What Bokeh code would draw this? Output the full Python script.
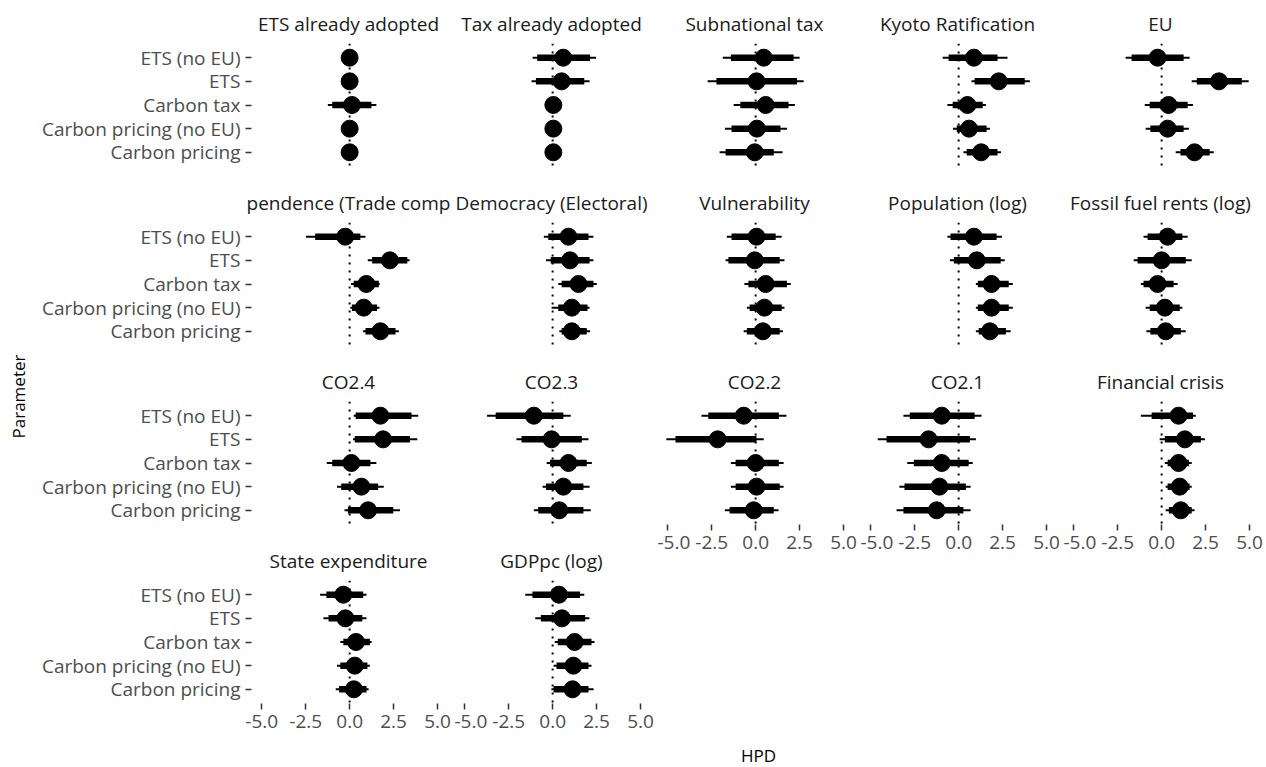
from bokeh.plotting import figure
from bokeh.models import FactorRange, Range1d, Span, FixedTicker, Title, ColumnDataSource, NumeralTickFormatter
from bokeh.layouts import row, column
from bokeh.embed import file_html
from bokeh.resources import INLINE

# ---------------- data ----------------
CATEGORIES = ["ETS (no EU)", "ETS", "Carbon tax", "Carbon pricing (no EU)", "Carbon pricing"]

PANELS = [
    "ETS already adopted", "Tax already adopted", "Subnational tax", "Kyoto Ratification", "EU",
    "pendence (Trade comp", "Democracy (Electoral)", "Vulnerability", "Population (log)", "Fossil fuel rents (log)",
    "CO2.4", "CO2.3", "CO2.2", "CO2.1", "Financial crisis",
    "State expenditure", "GDPpc (log)",
]

# point estimates (order of CATEGORIES)
POINT = [
    [0.00, 0.00, 0.13, 0.00, 0.00],
    [0.60, 0.51, 0.04, 0.04, 0.04],
    [0.46, 0.05, 0.57, 0.07, -0.05],
    [0.87, 2.28, 0.50, 0.59, 1.28],
    [-0.23, 3.26, 0.39, 0.34, 1.87],
    [-0.25, 2.29, 0.95, 0.80, 1.75],
    [0.90, 0.99, 1.47, 1.09, 1.09],
    [0.05, -0.05, 0.57, 0.50, 0.41],
    [0.87, 1.03, 1.87, 1.87, 1.78],
    [0.34, 0.00, -0.23, 0.18, 0.23],
    [1.75, 1.90, 0.10, 0.67, 1.05],
    [-1.07, -0.06, 0.90, 0.61, 0.38],
    [-0.68, -2.16, 0.00, 0.05, -0.11],
    [-0.96, -1.71, -0.96, -1.09, -1.25],
    [0.96, 1.32, 0.96, 1.03, 1.09],
    [-0.36, -0.24, 0.36, 0.29, 0.24],
    [0.36, 0.53, 1.25, 1.18, 1.13],
]
THICK_LO = [
    [-0.05, -0.05, -0.99, -0.05, -0.05],
    [-0.88, -0.95, 0.00, 0.00, 0.00],
    [-1.41, -2.23, -0.87, -1.37, -1.71],
    [-0.57, 0.91, -0.34, -0.11, 0.46],
    [-1.71, 2.00, -0.68, -0.64, 1.07],
    [-1.96, 1.28, 0.23, 0.13, 0.90],
    [-0.25, -0.11, 0.51, 0.32, 0.51],
    [-1.37, -1.55, -0.41, -0.34, -0.50],
    [-0.46, -0.27, 1.09, 1.09, 1.14],
    [-0.80, -1.37, -1.03, -0.68, -0.64],
    [0.34, 0.29, -0.99, -0.48, -0.10],
    [-3.24, -1.77, -0.15, -0.38, -0.82],
    [-2.69, -4.56, -1.14, -1.14, -1.48],
    [-2.78, -4.10, -2.55, -3.08, -3.14],
    [-0.57, 0.18, 0.34, 0.34, 0.41],
    [-1.32, -1.20, -0.36, -0.53, -0.60],
    [-1.15, -0.67, 0.29, 0.22, 0.05],
]
THICK_HI = [
    [0.05, 0.05, 1.24, 0.05, 0.05],
    [2.13, 1.80, 0.08, 0.08, 0.08],
    [2.16, 2.35, 1.87, 1.41, 1.03],
    [2.21, 3.76, 1.37, 1.59, 2.21],
    [1.25, 4.56, 1.48, 1.25, 2.73],
    [0.61, 3.28, 1.66, 1.56, 2.61],
    [2.04, 2.10, 2.32, 1.98, 1.94],
    [1.14, 1.37, 1.78, 1.48, 1.37],
    [2.16, 2.39, 2.85, 2.85, 2.69],
    [1.18, 1.37, 0.68, 1.03, 1.09],
    [3.52, 3.43, 1.18, 1.62, 2.48],
    [0.61, 1.66, 1.94, 1.75, 1.75],
    [1.32, 0.05, 1.32, 1.37, 1.03],
    [0.91, 0.64, 0.57, 0.41, 0.27],
    [1.78, 2.23, 1.55, 1.59, 1.71],
    [0.77, 0.72, 1.15, 1.01, 0.96],
    [1.56, 1.85, 2.21, 2.04, 2.04],
]
THIN_LO = [
    [-0.10, -0.10, -1.24, -0.10, -0.10],
    [-1.14, -1.20, -0.04, -0.04, -0.04],
    [-1.87, -2.73, -1.25, -1.75, -2.05],
    [-0.91, 0.73, -0.64, -0.32, 0.27],
    [-2.05, 1.71, -0.96, -0.91, 0.80],
    [-2.48, 1.03, 0.08, 0.04, 0.76],
    [-0.50, -0.38, 0.32, -0.06, 0.38],
    [-1.64, -1.71, -0.64, -0.50, -0.68],
    [-0.64, -0.50, 0.98, 0.98, 0.98],
    [-1.03, -1.59, -1.18, -0.91, -0.87],
    [0.23, 0.19, -1.30, -0.72, -0.29],
    [-3.73, -2.06, -0.34, -0.57, -1.07],
    [-3.08, -5.08, -1.41, -1.41, -1.75],
    [-3.14, -4.60, -2.92, -3.37, -3.53],
    [-1.18, -0.11, 0.18, 0.23, 0.23],
    [-1.68, -1.49, -0.53, -0.72, -0.79],
    [-1.56, -0.99, 0.12, 0.05, -0.07],
]
THIN_HI = [
    [0.10, 0.10, 1.52, 0.10, 0.10],
    [2.47, 2.10, 0.12, 0.12, 0.12],
    [2.50, 2.73, 2.23, 1.78, 1.53],
    [2.78, 4.05, 1.55, 1.78, 2.41],
    [1.59, 4.95, 1.78, 1.55, 2.96],
    [0.90, 3.41, 1.71, 1.70, 2.80],
    [2.32, 2.32, 2.51, 2.10, 2.13],
    [1.48, 1.64, 2.00, 1.64, 1.55],
    [2.46, 2.62, 3.08, 3.08, 2.96],
    [1.48, 1.71, 0.91, 1.18, 1.37],
    [3.90, 3.85, 1.52, 1.94, 2.86],
    [1.03, 2.04, 2.23, 2.10, 2.17],
    [1.75, 0.46, 1.59, 1.59, 1.30],
    [1.30, 0.98, 0.80, 0.68, 0.68],
    [1.94, 2.46, 1.71, 1.71, 1.87],
    [0.96, 0.96, 1.25, 1.15, 1.08],
    [1.80, 2.09, 2.38, 2.21, 2.33],
]
X_TICKS = [-5.0, -2.5, 0.0, 2.5, 5.0]
X_TITLE = "HPD"
Y_TITLE = "Parameter"

# ---------------- style / layout ----------------
FONT = "Open Sans"
FS = "19px"
FS_AXT = "17px"
NCOL = 5
FW, FH = 194, 123
LEFT_LAB_W = 34
FRAME_LEFT = 251
ML0 = FRAME_LEFT - LEFT_LAB_W
GAP_R = 9
TOP_B1 = 43
TOP_B = 43
BOT_GAP = 13
AXIS_B = 33
TITLE_STANDOFF = 14

lo = min(min(v) for v in THIN_LO)
hi = max(max(v) for v in THIN_HI)
pad = 0.05 * (hi - lo)
x_range = Range1d(lo - pad, hi + pad)
y_factors = list(reversed(CATEGORIES))


def make_panel(i):
    r, c = divmod(i, NCOL)
    has_x = (r == 3) or (r == 2 and c >= 2)
    has_y = c == 0
    p = figure(
        frame_width=FW, frame_height=FH,
        x_range=x_range,
        y_range=FactorRange(factors=y_factors, range_padding=0.04),
        x_axis_location="below" if has_x else None,
        y_axis_location="left" if has_y else None,
        output_backend="svg", toolbar_location=None,
        min_border_left=ML0 if has_y else 0,
        min_border_right=GAP_R if c < NCOL - 1 else 7,
        min_border_top=TOP_B1 if r == 0 else TOP_B,
        min_border_bottom=AXIS_B if has_x else BOT_GAP,
        outline_line_color=None,
        background_fill_color="white", border_fill_color="white",
    )
    p.title.text = PANELS[i]
    p.title.align = "center"
    p.title.text_font = FONT
    p.title.text_font_size = FS
    p.title.text_font_style = "normal"
    p.title.text_color = "#1A1A1A"
    p.title.standoff = TITLE_STANDOFF
    for g in p.grid:
        g.visible = False
    if has_x:
        ax = p.xaxis[0]
        ax.ticker = FixedTicker(ticks=X_TICKS)
        ax.formatter = NumeralTickFormatter(format="0.0")
        ax.axis_line_color = None
        ax.major_tick_line_color = "#333333"
        ax.major_tick_line_width = 1.5
        ax.major_tick_out = 6
        ax.major_tick_in = 0
        ax.minor_tick_line_color = None
        ax.major_label_standoff = 5
        ax.major_label_text_font = FONT
        ax.major_label_text_font_size = FS
        ax.major_label_text_color = "#4D4D4D"
    if has_y:
        ay = p.yaxis[0]
        ay.axis_line_color = None
        ay.major_tick_line_color = "#333333"
        ay.major_tick_line_width = 1.5
        ay.major_tick_out = 6
        ay.major_tick_in = 0
        ay.minor_tick_line_color = None
        ay.major_label_standoff = 5
        ay.major_label_text_font = FONT
        ay.major_label_text_font_size = FS
        ay.major_label_text_color = "#4D4D4D"

    p.add_layout(Span(location=0, dimension="height", line_color="black",
                      line_dash="2 6", line_width=2, level="underlay"))
    src = ColumnDataSource(dict(
        cat=CATEGORIES, pt=POINT[i],
        tlo=THICK_LO[i], thi=THICK_HI[i],
        nlo=THIN_LO[i], nhi=THIN_HI[i],
    ))
    p.segment(x0="nlo", x1="nhi", y0="cat", y1="cat", source=src,
              line_color="black", line_width=2, line_cap="butt")
    p.segment(x0="tlo", x1="thi", y0="cat", y1="cat", source=src,
              line_color="black", line_width=6.5, line_cap="butt")
    p.scatter(x="pt", y="cat", source=src, size=17, marker="circle",
              fill_color="black", line_color="black")
    return p


figs = [make_panel(i) for i in range(len(PANELS))]
cols = []
for c in range(NCOL):
    cols.append(column([figs[i] for i in range(c, len(figs), NCOL)], spacing=0))

total_h = TOP_B1 + FH + BOT_GAP + 2 * (TOP_B + FH + BOT_GAP) + TOP_B + FH + AXIS_B
Y_CENTER = 396

ylab = figure(width=LEFT_LAB_W, height=total_h, x_axis_location=None, y_axis_location=None,
              output_backend="svg", toolbar_location=None, outline_line_color=None,
              min_border_left=0, min_border_right=0,
              min_border_top=2 * Y_CENTER - total_h, min_border_bottom=0)
ylab.add_layout(Title(text=Y_TITLE, align="center", text_font=FONT, text_font_size=FS_AXT,
                      text_font_style="normal", text_color="black"), "left")
for g in ylab.grid:
    g.visible = False

XL_SHIFT = 8
xlab = figure(width=FRAME_LEFT + 4 * (FW + GAP_R) + FW + 7, height=27,
              x_axis_location=None, y_axis_location=None,
              output_backend="svg", toolbar_location=None, outline_line_color=None,
              min_border_left=FRAME_LEFT + XL_SHIFT, min_border_right=7,
              min_border_top=0, min_border_bottom=0)
xlab.add_layout(Title(text=X_TITLE, align="center", text_font=FONT, text_font_size=FS_AXT,
                      text_font_style="normal", text_color="black"), "below")
for g in xlab.grid:
    g.visible = False

layout = column(row([ylab] + cols, spacing=0), xlab, spacing=0)

with open("out.html", "w") as f:
    f.write(file_html(layout, INLINE))
